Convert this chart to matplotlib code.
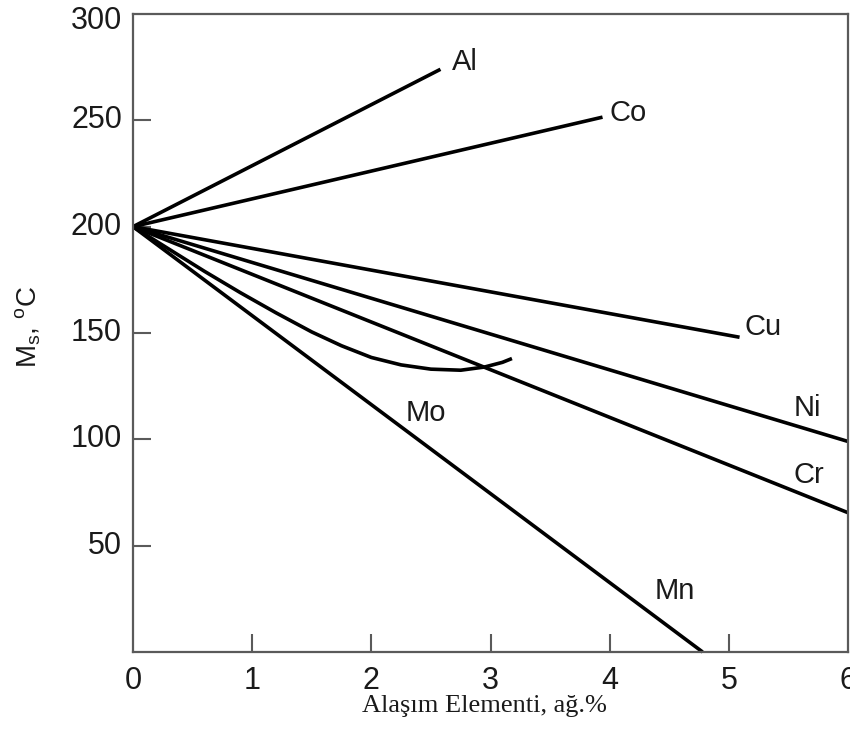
import matplotlib
matplotlib.use("Agg")
import matplotlib.pyplot as plt

# Martensite-start temperature vs. alloying element content
elements = ["Al", "Co", "Cu", "Ni", "Cr", "Mn"]
wt_pct = [[0, 2.58], [0, 3.94], [0, 5.09], [0, 6.0], [0, 6.0], [0, 4.78]]
ms_temp = [[200, 274], [200, 251.5], [200, 148], [200, 99], [200, 65.5], [200, 0]]

# Mo follows a curved path with a shallow minimum
mo_pct = [0, 0.3, 0.6, 0.9, 1.2, 1.5, 1.75, 2.0, 2.25, 2.5, 2.75, 2.95, 3.1, 3.18]
mo_temp = [200, 189.5, 179, 169, 159.5, 150.5, 144, 138.5, 135, 133, 132.5, 134, 136.2, 138]

x_ticks = [1, 2, 3, 4, 5]
x_ticklabels = ["0", "1", "2", "3", "4", "5", "6"]
y_ticks = [50, 100, 150, 200, 250]
y_ticklabels = ["50", "100", "150", "200", "250", "300"]

# label anchors (left/baseline) in data units
label_pos = {"Al": (2.68, 273.6), "Co": (4.00, 249.5), "Cu": (5.135, 149),
             "Ni": (5.54, 110.8), "Cr": (5.54, 79.7), "Mo": (2.29, 108.5),
             "Mn": (4.38, 25)}

plt.rcParams["font.family"] = ["Liberation Sans", "DejaVu Sans"]
plt.rcParams["mathtext.fontset"] = "custom"
plt.rcParams["mathtext.rm"] = "Liberation Sans"
plt.rcParams["mathtext.it"] = "Liberation Sans"

W, H = 850, 734
fig = plt.figure(figsize=(W / 100, H / 100), dpi=100)
ax = fig.add_axes([133 / W, 82 / H, 715 / W, 638 / H])

line_kw = dict(color="black", lw=2.6, solid_capstyle="butt",
               solid_joinstyle="round", clip_on=False)
for name, xs, ys in zip(elements, wt_pct, ms_temp):
    ax.plot(xs, ys, **line_kw)
ax.plot(mo_pct, mo_temp, **line_kw)

txt_color = "#1a1a1a"
for name, (lx, ly) in label_pos.items():
    ax.text(lx, ly, name, fontsize=21, ha="left", va="baseline", color=txt_color)

ax.set_xlim(0, 6)
ax.set_ylim(0, 300)

spine_color = "#5a5a5a"
for s in ax.spines.values():
    s.set_color(spine_color)
    s.set_linewidth(1.6)

ax.set_xticks(x_ticks)
ax.set_yticks(y_ticks)
ax.set_xticklabels([])
ax.set_yticklabels([])
ax.tick_params(direction="in", length=13, width=1.5, color=spine_color)

# tick labels, including the axis ends
tick_fs = 22
for i, lab in enumerate(x_ticklabels):
    ax.annotate(lab, xy=(i, 0), xycoords="data", xytext=(0, -10),
                textcoords="offset points", ha="center", va="top",
                fontsize=tick_fs, color=txt_color, annotation_clip=False)
for i, lab in enumerate(y_ticklabels):
    yoff = -5 if i == 5 else 0
    ax.annotate(lab, xy=(0, (i + 1) * 50), xycoords="data", xytext=(-8, yoff),
                textcoords="offset points", ha="right", va="center",
                fontsize=tick_fs, color=txt_color, annotation_clip=False)

fig.text(484 / W, 1 - 706 / H, "Alaşım Elementi, ağ.%", ha="center", va="center",
         fontsize=19, family=["Liberation Serif", "DejaVu Serif"], color=txt_color)
fig.text(28 / W, 1 - 327 / H, r"M$_{\rm s}$, $^{\rm o}$C", ha="center", va="center",
         rotation=90, fontsize=20, color=txt_color)

fig.savefig("out.png", dpi=100)
